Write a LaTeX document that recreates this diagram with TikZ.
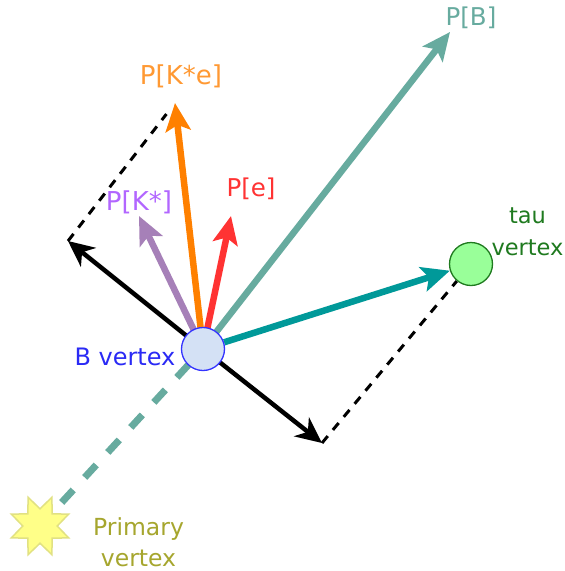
\documentclass[tikz,border=0pt]{standalone}
\usepackage{fontspec}
\setmainfont{DejaVu Sans}
\usetikzlibrary{arrows.meta,shapes.geometric,backgrounds}
\definecolor{cgreen}{HTML}{67AB9F}
\definecolor{corange}{HTML}{FF8000}
\definecolor{cred}{HTML}{FF3333}
\definecolor{cpurple}{HTML}{A680B8}
\definecolor{cteal}{HTML}{009999}
\definecolor{tpurple}{HTML}{B266FF}
\definecolor{torange}{HTML}{FF9933}
\definecolor{tblue}{HTML}{2A2AF5}
\definecolor{tdgreen}{HTML}{1F7A1F}
\definecolor{tolive}{HTML}{A6A62E}
\tikzset{
  thick arrow/.style={line width=6.5pt,-{Stealth[length=28pt,width=25pt,inset=6pt]}},
  black arrow/.style={line width=4.5pt,black,-{Stealth[length=26pt,width=24pt,inset=8pt]}},
  helper/.style={line width=3pt,black,dash pattern=on 9pt off 8pt},
  lbl/.style={font=\fontsize{24.5}{29}\selectfont,inner sep=0pt},
  wlbl/.style={font=\fontsize{26}{30}\selectfont,inner sep=0pt},
  vlbl/.style={font=\fontsize{22.5}{31.5}\selectfont,inner sep=0pt,align=center},
  vertexdot/.style={circle,minimum size=43pt,inner sep=0pt,line width=1.3pt}
}
\begin{document}
\begin{tikzpicture}[x=1pt,y=-1pt]
\useasboundingbox (0,0) rectangle (565,571);
\node[vertexdot,draw=blue!80,fill={rgb,255:red,212;green,225;blue,245}] (B) at (203,349) {};
\node[vertexdot,draw=tdgreen,fill={rgb,255:red,153;green,255;blue,153}] (tau) at (471,264) {};
\node[star,star points=8,star point ratio=1.8,minimum size=62pt,inner sep=0pt,shape border rotate=22.5,line width=1.5pt,draw={rgb,255:red,225;green,225;blue,130},fill={rgb,255:red,255;green,255;blue,136}] (pv) at (40,526) {};
\coordinate (pB) at (450,32);
\coordinate (pKe) at (175,103);
\coordinate (pe) at (231,216);
\coordinate (pK) at (139,216);
\coordinate (e1) at (68,241);
\coordinate (e2) at (322,443);
\node[lbl,text=cgreen] (lB) at (471,18) {P[B]};
\node[wlbl,text=torange] (lKe) at (181,76) {P[K*e]};
\node[lbl,text=cred] (le) at (251,189) {P[e]};
\node[wlbl,text=tpurple] (lK) at (139,202) {P[K*]};
\node[vlbl,font=\fontsize{24}{28}\selectfont,text=tblue] (lBv) at (125,357) {B vertex};
\node[vlbl,text=tdgreen] (ltau) at (527.5,232) {tau\\vertex};
\node[vlbl,font=\fontsize{23.5}{31.5}\selectfont,text=tolive] (lpv) at (138.5,542) {Primary\\vertex};
\begin{scope}[on background layer]
\fill[white] (0,0) rectangle (565,571);
\draw[line width=7pt,cgreen,dash pattern=on 17pt off 17pt,shorten <=13pt] (pv) -- (B.center);
\draw[helper,shorten >=14pt] (e1) -- (pKe);
\draw[helper] (e2) -- (tau);
\draw[black arrow] (B.center) -- (e1);
\draw[black arrow] (B.center) -- (e2);
\draw[thick arrow,cpurple] (B.center) -- (pK);
\draw[thick arrow,cred] (B.center) -- (pe);
\draw[thick arrow,cgreen] (B.center) -- (pB);
\draw[thick arrow,corange] (B.center) -- (pKe);
\draw[thick arrow,cteal] (B) -- (tau);
\end{scope}
\end{tikzpicture}
\end{document}
